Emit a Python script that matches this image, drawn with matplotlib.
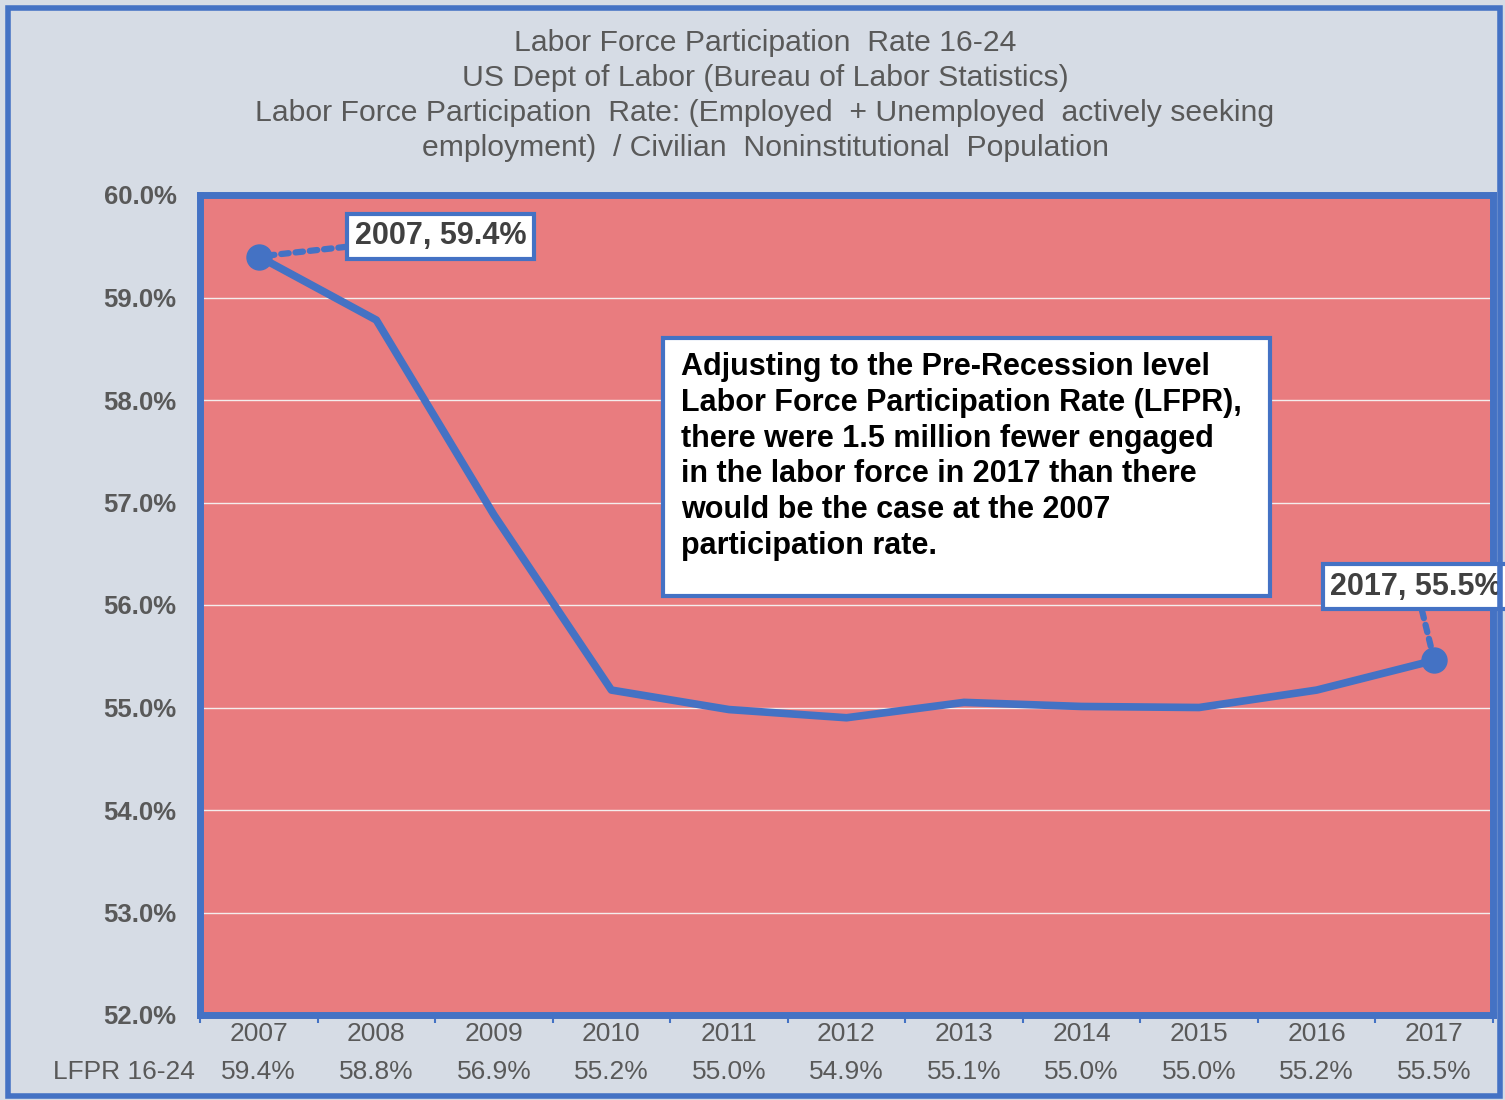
import numpy as np
import matplotlib
matplotlib.use('Agg')
import matplotlib.pyplot as plt
from matplotlib.patches import Rectangle
from matplotlib.transforms import blended_transform_factory

years = ['2007', '2008', '2009', '2010', '2011', '2012', '2013', '2014', '2015', '2016', '2017']
lfpr = [59.4, 58.78, 56.88, 55.17, 54.98, 54.9, 55.05, 55.01, 55.0, 55.17, 55.46]
table_labels = ['59.4%', '58.8%', '56.9%', '55.2%', '55.0%', '54.9%', '55.1%', '55.0%', '55.0%', '55.2%', '55.5%']
row_name = 'LFPR 16-24'

title = ('Labor Force Participation  Rate 16-24\n'
         'US Dept of Labor (Bureau of Labor Statistics)\n'
         'Labor Force Participation  Rate: (Employed  + Unemployed  actively seeking\n'
         'employment)  / Civilian  Noninstitutional  Population')
note = ('Adjusting to the Pre-Recession level\n'
        'Labor Force Participation Rate (LFPR),\n'
        'there were 1.5 million fewer engaged\n'
        'in the labor force in 2017 than there\n'
        'would be the case at the 2007\n'
        'participation rate.')

blue = '#4472C4'
grey = '#595959'
plt.rcParams['font.family'] = ['Liberation Sans', 'DejaVu Sans']

fig = plt.figure(figsize=(15.05, 11), dpi=100)
fig.patch.set_facecolor('#D6DCE5')
fig.patches.append(Rectangle((0.005, 0.004), 0.992, 0.989, transform=fig.transFigure,
                             fill=False, edgecolor=blue, linewidth=4))

ax = fig.add_axes([200 / 1505, 1 - 1015 / 1100, 1293 / 1505, 820 / 1100])
ax.set_facecolor('#E97C7F')
x = np.arange(len(years))
ax.plot(x, lfpr, color=blue, linewidth=5.5, solid_capstyle='round', solid_joinstyle='round')
ax.plot([x[0], x[-1]], [lfpr[0], lfpr[-1]], 'o', color=blue, markersize=18)

ax.set_xlim(-0.5, len(years) - 0.5)
ax.set_ylim(52, 60)
ax.set_yticks(np.arange(52, 60.1, 1))
ax.set_yticklabels(['%.1f%%' % v for v in np.arange(52, 60.1, 1)],
                   fontsize=18.5, fontweight='bold', color=grey)
ax.tick_params(axis='y', length=0, pad=17)
ax.set_xticks([])
ax.set_xticks(np.arange(-0.5, len(years)), minor=True)
ax.tick_params(axis='x', which='minor', length=6, width=1.5, color=blue)
ax.grid(axis='y', color='#F4EDED', linewidth=1)
ax.set_axisbelow(True)
for s in ax.spines.values():
    s.set_color(blue)
    s.set_linewidth(5)

# data table under the axis
tr = blended_transform_factory(ax.transData, ax.transAxes)
for i, (yr, lab) in enumerate(zip(years, table_labels)):
    ax.text(i, -0.0235, yr, transform=tr, ha='center', va='center', fontsize=19, color=grey)
    ax.text(i, -0.0695, lab, transform=tr, ha='center', va='center', fontsize=19, color=grey)
fig.text(195 / 1505, 1 - 1072 / 1100, row_name, ha='right', va='center', fontsize=19, color=grey)

fig.text(765 / 1505, 1 - 29 / 1100, title, ha='center', va='top', fontsize=21.7,
         color=grey, linespacing=1.32)

# point labels
dotted = dict(arrowstyle='-', color=blue, lw=4.5, linestyle=(0, (1.2, 1.1)), shrinkA=0, shrinkB=0)
box = dict(boxstyle='square,pad=0.25', facecolor='white', edgecolor=blue, linewidth=3)
ax.annotate('2007, 59.4%', (x[0], lfpr[0]), xytext=(131, 14.5), textcoords='offset points',
            ha='center', va='center', fontsize=22, fontweight='bold', color='#404040',
            bbox=box, arrowprops=dotted)
ax.annotate('2017, 55.5%', (x[-1], lfpr[-1]), xytext=(-13, 53), textcoords='offset points',
            ha='center', va='center', fontsize=22, fontweight='bold', color='#404040',
            bbox=box, arrowprops=dotted, annotation_clip=False)

ax.add_patch(Rectangle(((663 - 200) / 1293, (1015 - 596) / 820), 607 / 1293, 258 / 820,
                       transform=ax.transAxes, facecolor='white', edgecolor=blue,
                       linewidth=3, zorder=4))
ax.text((681 - 200) / 1293, (1015 - 352) / 820, note, transform=ax.transAxes,
        ha='left', va='top', fontsize=22, fontweight='bold', color='black',
        linespacing=1.25, zorder=5)

fig.savefig('out.png', dpi=100, facecolor=fig.get_facecolor())
